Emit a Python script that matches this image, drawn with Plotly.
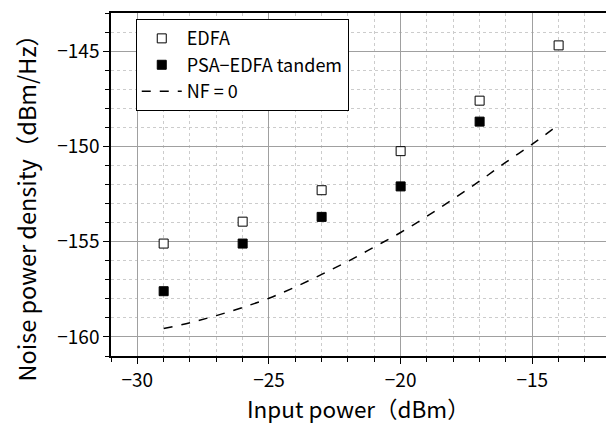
import plotly.graph_objects as go

x_meas = [-29, -26, -23, -20, -17, -14]
edfa = [-155.1, -153.95, -152.3, -150.25, -147.6, -144.7]
x_psa = [-29, -26, -23, -20, -17]
psa = [-157.6, -155.1, -153.7, -152.1, -148.7]
x_nf = [-29, -28, -27, -26, -25, -24, -23, -22, -21, -20, -19, -18, -17, -16, -15, -14]
nf0 = [-159.56, -159.25, -158.88, -158.45, -157.97, -157.38, -156.72, -156.03, -155.28, -154.52,
       -153.67, -152.76, -151.82, -150.83, -149.88, -148.87]

FONT = "Noto Sans CJK JP"

fig = go.Figure()
fig.add_trace(go.Scatter(x=x_meas, y=edfa, mode="markers", name="EDFA",
                         marker=dict(symbol="square", size=9, color="white",
                                     line=dict(color="black", width=1))))
fig.add_trace(go.Scatter(x=x_psa, y=psa, mode="markers", name="PSA\u2212EDFA tandem",
                         marker=dict(symbol="square", size=9, color="black",
                                     line=dict(color="black", width=1))))
fig.add_trace(go.Scatter(x=x_nf, y=nf0, mode="lines", name="NF = 0",
                         line=dict(color="black", width=1.5, dash="dash", shape="spline")))

fig.update_layout(
    width=606, height=423,
    margin=dict(l=111, r=0, t=13, b=67),
    paper_bgcolor="white", plot_bgcolor="white",
    font=dict(family=FONT, color="black", size=19),
    legend=dict(x=0.05, y=0.982, xanchor="left", yanchor="top",
                bgcolor="white", bordercolor="black", borderwidth=1,
                font=dict(size=18), tracegroupgap=0, itemwidth=40),
    showlegend=True,
    annotations=[
        dict(text="Input power\uff08dBm\uff09", xref="paper", yref="paper",
             x=0.5, y=-0.152, xanchor="center", yanchor="middle",
             showarrow=False, font=dict(size=22.5)),
        dict(text="Noise power density\uff08dBm/Hz\uff09", xref="paper", yref="paper",
             x=-0.172, y=0.45, xanchor="center", yanchor="middle", textangle=-90,
             showarrow=False, font=dict(size=23.5)),
    ],
)
fig.update_xaxes(
    range=[-31, -12.2], tickvals=[-30, -25, -20, -15], automargin=False,
    showline=True, linecolor="black", linewidth=1.5, mirror=True,
    ticks="outside", ticklen=6, tickcolor="black",
    showgrid=True, gridcolor="#a0a0a0", gridwidth=1,
    minor=dict(dtick=1, tick0=-30, ticks="outside", ticklen=4, tickcolor="black",
               showgrid=True, gridcolor="#cccccc", griddash="dot", gridwidth=1),
    zeroline=False,
)
fig.update_yaxes(
    range=[-161, -143], tickvals=[-160, -155, -150, -145], automargin=False,
    showline=True, linecolor="black", linewidth=1.5, mirror=False,
    ticks="outside", ticklen=6, tickcolor="black",
    showgrid=True, gridcolor="#a0a0a0", gridwidth=1,
    minor=dict(dtick=1, tick0=-160, ticks="outside", ticklen=4, tickcolor="black",
               showgrid=True, gridcolor="#cccccc", griddash="dot", gridwidth=1),
    zeroline=False,
)

fig.write_html("out.html", config={"displayModeBar": False},
               post_script="document.body.style.margin='0';document.body.style.overflow='hidden';")
